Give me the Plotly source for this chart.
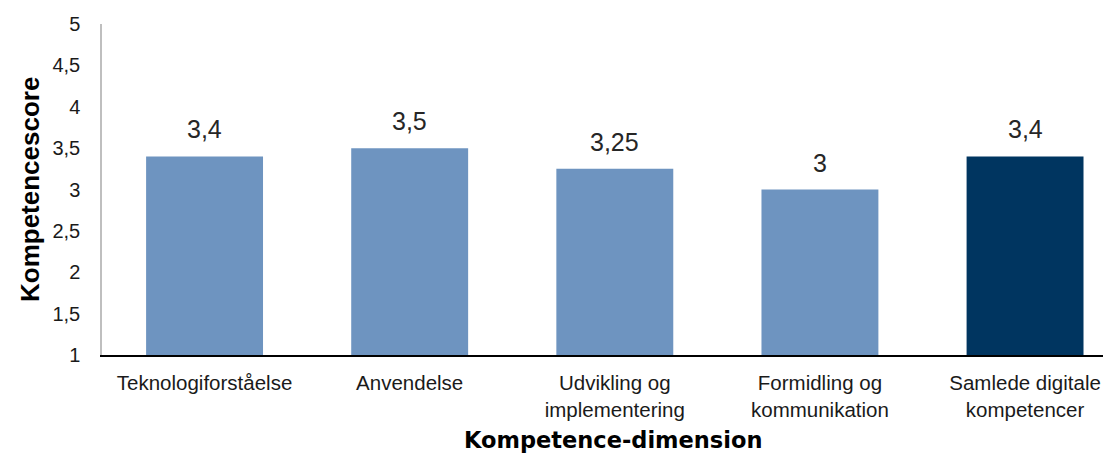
import plotly.graph_objects as go

# Competence dimensions and their average scores
categories = [
    "Teknologiforståelse",
    "Anvendelse",
    "Udvikling og<br>implementering",
    "Formidling og<br>kommunikation",
    "Samlede digitale<br>kompetencer",
]
scores = [3.4, 3.5, 3.25, 3.0, 3.4]
score_labels = ["3,4", "3,5", "3,25", "3", "3,4"]
bar_colors = ["#6E94C0", "#6E94C0", "#6E94C0", "#6E94C0", "#003560"]

y_ticks = [1, 1.5, 2, 2.5, 3, 3.5, 4, 4.5, 5]
y_tick_labels = ["1", "1,5", "2", "2,5", "3", "3,5", "4", "4,5", "5"]

W, H = 1103, 453
L, R, T, B = 102, 0, 24, 98
SANS = "Liberation Sans, Arial, sans-serif"

fig = go.Figure(
    go.Bar(
        x=categories,
        y=[s - 1 for s in scores],
        base=1,
        marker=dict(color=bar_colors, line=dict(width=0)),
        width=0.57,
        hoverinfo="skip",
    )
)

# value labels above each bar
for cat, val, lab in zip(categories, scores, score_labels):
    fig.add_annotation(
        x=cat, y=val, text=lab, showarrow=False,
        yanchor="middle", yshift=27,
        font=dict(family=SANS, size=25, color="#262626"),
    )

plot_w = W - L - R
plot_h = H - T - B

# y-axis title
fig.add_annotation(
    xref="paper", yref="paper",
    x=(30 - L) / plot_w, y=(H - B - 190) / plot_h,
    text="<b>Kompetencescore</b>", textangle=-90, showarrow=False,
    xanchor="center", yanchor="middle",
    font=dict(family=SANS, size=26, color="#000000"),
)

# x-axis title
fig.add_annotation(
    xref="paper", yref="paper",
    x=(613 - L) / plot_w, y=(H - B - 440) / plot_h,
    text="<b>Kompetence-dimension</b>", showarrow=False,
    xanchor="center", yanchor="middle",
    font=dict(family="DejaVu Sans, sans-serif", size=22.5, color="#000000"),
)

fig.update_layout(
    width=W, height=H,
    margin=dict(l=L, r=R, t=T, b=B, autoexpand=False),
    paper_bgcolor="white", plot_bgcolor="white",
    showlegend=False,
    bargap=0.43,
    xaxis=dict(
        type="category",
        range=[-0.5, 4.38],
        showgrid=False,
        showline=True, linecolor="#000000", linewidth=1.5,
        ticks="", automargin=False,
        tickfont=dict(family=SANS, size=20.5, color="#1a1a1a"),
        ticklabelstandoff=9,
    ),
    yaxis=dict(
        range=[1, 5],
        tickvals=y_ticks, ticktext=y_tick_labels,
        showgrid=False, zeroline=False,
        showline=True, linecolor="#BFBFBF", linewidth=1.5,
        ticks="", automargin=False,
        tickfont=dict(family=SANS, size=20, color="#1a1a1a"),
        ticklabelstandoff=16,
    ),
)

fig.write_html("out.html")
